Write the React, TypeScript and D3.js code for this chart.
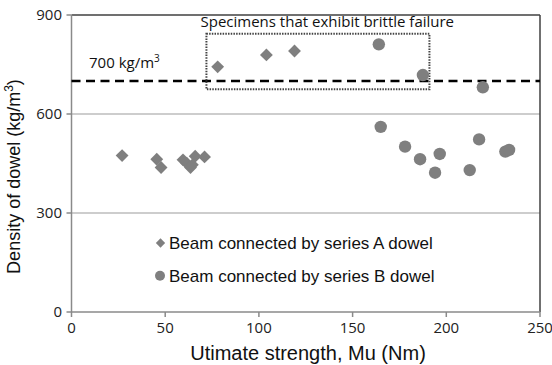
import React from "react";
import * as d3 from "d3";

const seriesAX = [27, 45.5, 47.8, 59.5, 61.5, 63.5, 64.5, 66, 71, 78, 104, 119];
const seriesAY = [474, 463, 438, 461, 451, 438, 446, 472, 470, 743, 779, 791];
const seriesBX = [164, 187.5, 219.5, 165, 178, 186, 196.5, 194, 212.5, 217.5, 231.5, 233.5];
const seriesBY = [811, 718, 681, 561, 501, 463, 479, 422, 430, 523, 486, 491];
const xTicks = [0, 50, 100, 150, 200, 250];
const yTicks = [0, 300, 600, 900];
const gridValues = [300, 600];
const thresholdValue = 700;
const boxX = [72, 191];
const boxY = [675, 843];
const legendLabels = ["Beam connected by series A dowel", "Beam connected by series B dowel"];

const W = 552;
const H = 365;
const x = d3.scaleLinear().domain([0, 250]).range([71.5, 540]);
const y = d3.scaleLinear().domain([0, 900]).range([312, 15]);
const MARK = "#7f7f7f";
const tickFont = "'Open Sans', sans-serif";
const titleFont = "'Liberation Sans', Arial, sans-serif";

const diamond = d3.symbol().type(d3.symbolDiamond2).size(105);
const diamondSmall = d3.symbol().type(d3.symbolDiamond2).size(55);

export default function App() {
  return (
    <svg width={W} height={H} style={{ position: "absolute", left: 0, top: 0, background: "#fff" }}>
      {gridValues.map((v) => (
        <line key={v} x1={x(0)} x2={x(250)} y1={y(v)} y2={y(v)} stroke="#bdbdbd" strokeWidth={1.5} />
      ))}
      <line x1={x(0)} x2={x(250)} y1={y(900)} y2={y(900)} stroke="#404040" strokeWidth={1.5} />
      <line x1={x(250)} x2={x(250)} y1={y(900)} y2={y(0)} stroke="#404040" strokeWidth={1.5} />
      <line x1={x(0)} x2={x(0)} y1={y(900)} y2={y(0)} stroke="#8a8a8a" strokeWidth={1.5} />
      <line x1={x(0)} x2={x(250)} y1={y(0)} y2={y(0)} stroke="#8a8a8a" strokeWidth={1.5} />
      {yTicks.map((v) => (
        <g key={v}>
          <line x1={x(0) - 5} x2={x(0)} y1={y(v)} y2={y(v)} stroke="#8a8a8a" strokeWidth={1.5} />
          <text x={62} y={y(v)} dy="0.35em" textAnchor="end" fontFamily={tickFont} fontSize={15} fill="#222">
            {v}
          </text>
        </g>
      ))}
      {xTicks.map((v) => (
        <g key={v}>
          <line x1={x(v)} x2={x(v)} y1={y(0)} y2={y(0) + 5} stroke="#8a8a8a" strokeWidth={1.5} />
          <text x={x(v)} y={333} textAnchor="middle" fontFamily={tickFont} fontSize={15} fill="#222">
            {v}
          </text>
        </g>
      ))}
      <line x1={x(0)} x2={x(250)} y1={y(thresholdValue)} y2={y(thresholdValue)} stroke="#000" strokeWidth={2.5} strokeDasharray="9,5.5" />
      <text x={89} y={67.5} fontFamily={tickFont} fontSize={15} fill="#111">
        700 kg/m<tspan dy={-6} fontSize={10}>3</tspan>
      </text>
      <rect x={x(boxX[0])} y={y(boxY[1])} width={x(boxX[1]) - x(boxX[0])} height={y(boxY[0]) - y(boxY[1])} fill="none" stroke="#444" strokeWidth={2} strokeDasharray="1.5,1.2" />
      <text x={200.5} y={27} fontFamily={tickFont} fontSize={15} fill="#111">
        Specimens that exhibit brittle failure
      </text>
      {seriesBX.map((v, i) => (
        <circle key={"b" + i} cx={x(v)} cy={y(seriesBY[i])} r={6.2} fill={MARK} />
      ))}
      {seriesAX.map((v, i) => (
        <path key={"a" + i} d={diamond() as string} transform={`translate(${x(v)},${y(seriesAY[i])})`} fill={MARK} />
      ))}
      <path d={diamondSmall() as string} transform="translate(160.5,243)" fill={MARK} />
      <text x={169} y={243} dy="0.35em" fontFamily={titleFont} fontSize={17} fill="#111">
        {legendLabels[0]}
      </text>
      <circle cx={160} cy={275.7} r={5} fill={MARK} />
      <text x={169} y={275.7} dy="0.35em" fontFamily={titleFont} fontSize={17} fill="#111">
        {legendLabels[1]}
      </text>
      <text x={308} y={360} textAnchor="middle" fontFamily={titleFont} fontSize={20} fill="#111">
        Utimate strength, Mu (Nm)
      </text>
      <text transform="translate(20,176.5) rotate(-90)" textAnchor="middle" fontFamily={titleFont} fontSize={18} fill="#111">
        Density of dowel (kg/m<tspan dy={-7} fontSize={12}>3</tspan><tspan dy={7}>)</tspan>
      </text>
    </svg>
  );
}
